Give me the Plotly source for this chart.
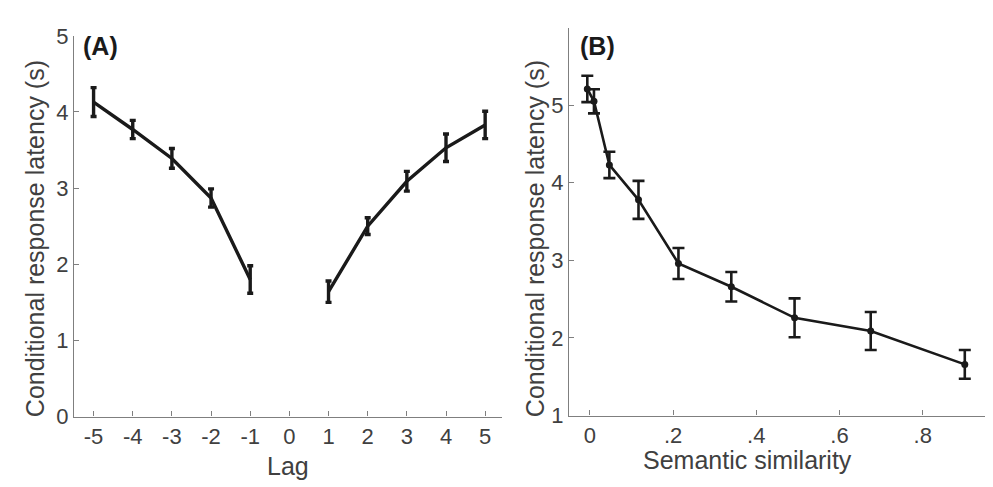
import plotly.graph_objects as go

# Panel A data
lag_neg = [-5, -4, -3, -2, -1]
lat_neg = [4.13, 3.77, 3.39, 2.87, 1.80]
err_neg = [0.19, 0.12, 0.13, 0.12, 0.18]
lag_pos = [1, 2, 3, 4, 5]
lat_pos = [1.64, 2.50, 3.09, 3.53, 3.83]
err_pos = [0.14, 0.11, 0.13, 0.18, 0.18]
lag_ticks = [-5, -4, -3, -2, -1, 0, 1, 2, 3, 4, 5]
lag_ticklabels = ["-5", "-4", "-3", "-2", "-1", "0", "1", "2", "3", "4", "5"]
lat_ticks_a = [0, 1, 2, 3, 4, 5]

# Panel B data
sim = [-0.006, 0.010, 0.047, 0.117, 0.213, 0.340, 0.492, 0.675, 0.901]
lat_b = [5.21, 5.05, 4.23, 3.78, 2.96, 2.66, 2.26, 2.09, 1.66]
err_b = [0.17, 0.155, 0.17, 0.245, 0.20, 0.19, 0.25, 0.245, 0.185]
sim_ticks = [0, 0.2, 0.4, 0.6, 0.8]
sim_ticklabels = ["0", ".2", ".4", ".6", ".8"]
lat_ticks_b = [1, 2, 3, 4, 5]

W, H = 993, 487
LINE = "#1a1a1a"
AX = "#7f7f7f"
TXT = "#404040"
FONT = "Liberation Sans, Arial, Helvetica, sans-serif"

fig = go.Figure()
for xs, ys, es in [(lag_neg, lat_neg, err_neg), (lag_pos, lat_pos, err_pos)]:
    fig.add_trace(go.Scatter(
        x=xs, y=ys, mode="lines", xaxis="x", yaxis="y",
        line=dict(color=LINE, width=3.4),
        error_y=dict(type="data", array=es, color=LINE, thickness=3.4, width=3),
        showlegend=False))

fig.add_trace(go.Scatter(
    x=sim, y=lat_b, mode="lines+markers", xaxis="x2", yaxis="y2",
    line=dict(color=LINE, width=2.6),
    marker=dict(color=LINE, size=7),
    error_y=dict(type="data", array=err_b, color=LINE, thickness=2.6, width=6),
    showlegend=False))

def px_x(p):
    return p / W

def px_y(p):
    return (H - p) / H

axis_common = dict(showline=True, linecolor=AX, linewidth=1.2, ticks="inside",
                   ticklen=5, tickwidth=1.2, tickcolor=AX, showgrid=False,
                   zeroline=False, tickfont=dict(family=FONT, size=22, color=TXT))

fig.update_layout(
    width=W, height=H, margin=dict(l=0, r=0, t=0, b=0),
    paper_bgcolor="white", plot_bgcolor="white",
    xaxis=dict(domain=[px_x(66), px_x(494)], range=[-5.5, 5.43],
               tickvals=lag_ticks, ticktext=lag_ticklabels, anchor="y", **axis_common),
    yaxis=dict(domain=[px_y(418), px_y(16.7)], range=[0, 5],
               tickvals=lat_ticks_a, anchor="x", **axis_common),
    xaxis2=dict(domain=[px_x(561), 1.0], range=[-0.05, 0.988],
                tickvals=sim_ticks, ticktext=sim_ticklabels, anchor="y2", **axis_common),
    yaxis2=dict(domain=[px_y(417), px_y(8)], range=[1, 6],
                tickvals=lat_ticks_b, anchor="x2", **axis_common),
)

ann = [
    dict(text="<b>(A)</b>", x=px_x(73), y=px_y(27), xanchor="left", yanchor="middle", font=dict(size=25, color="#1a1a1a")),
    dict(text="<b>(B)</b>", x=px_x(570), y=px_y(27), xanchor="left", yanchor="middle", font=dict(size=25, color="#1a1a1a")),
    dict(text="Conditional response latency (s)", x=px_x(27), y=px_y(231), textangle=-90,
         xanchor="center", yanchor="middle", font=dict(size=25, color=TXT)),
    dict(text="Conditional response latency (s)", x=px_x(527), y=px_y(231), textangle=-90,
         xanchor="center", yanchor="middle", font=dict(size=25, color=TXT)),
    dict(text="Lag", x=px_x(280), y=px_y(470), xanchor="center", yanchor="middle", font=dict(size=25, color=TXT)),
    dict(text="Semantic similarity", x=px_x(739), y=px_y(464), xanchor="center", yanchor="middle", font=dict(size=25, color=TXT)),
]
for a in ann:
    a.update(xref="paper", yref="paper", showarrow=False)
    a["font"]["family"] = FONT
fig.update_layout(annotations=ann)

fig.write_html("out.html")
